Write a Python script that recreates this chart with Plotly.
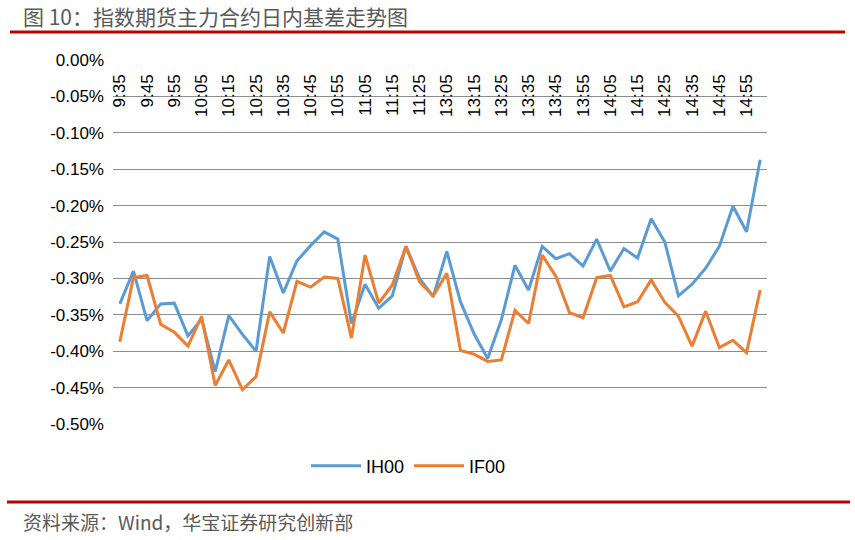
import plotly.graph_objects as go

times = ["9:35", "9:40", "9:45", "9:50", "9:55", "10:00", "10:05", "10:10", "10:15", "10:20",
         "10:25", "10:30", "10:35", "10:40", "10:45", "10:50", "10:55", "11:00", "11:05", "11:10",
         "11:15", "11:20", "11:25", "11:30",
         "13:05", "13:10", "13:15", "13:20", "13:25", "13:30", "13:35", "13:40", "13:45", "13:50",
         "13:55", "14:00", "14:05", "14:10", "14:15", "14:20", "14:25", "14:30", "14:35", "14:40",
         "14:45", "14:50", "14:55", "15:00"]

ih00 = [-0.335, -0.290, -0.358, -0.335, -0.334, -0.379, -0.356, -0.428, -0.351, -0.377,
        -0.400, -0.270, -0.320, -0.276, -0.255, -0.236, -0.246, -0.362, -0.308, -0.341,
        -0.324, -0.256, -0.300, -0.325,
        -0.263, -0.332, -0.376, -0.410, -0.357, -0.282, -0.316, -0.256, -0.273, -0.266,
        -0.283, -0.246, -0.290, -0.259, -0.272, -0.218, -0.250, -0.324, -0.308, -0.286,
        -0.256, -0.201, -0.236, -0.137]

if00 = [-0.387, -0.299, -0.296, -0.363, -0.374, -0.393, -0.352, -0.447, -0.412, -0.453,
        -0.435, -0.346, -0.375, -0.304, -0.312, -0.298, -0.300, -0.382, -0.268, -0.334,
        -0.309, -0.256, -0.305, -0.324,
        -0.293, -0.399, -0.404, -0.414, -0.412, -0.344, -0.362, -0.268, -0.297, -0.347,
        -0.354, -0.299, -0.296, -0.339, -0.332, -0.302, -0.333, -0.352, -0.393, -0.345,
        -0.395, -0.385, -0.402, -0.316]

y_ticks = [0.0, -0.05, -0.10, -0.15, -0.20, -0.25, -0.30, -0.35, -0.40, -0.45, -0.50]
y_tick_text = ["0.00%", "-0.05%", "-0.10%", "-0.15%", "-0.20%", "-0.25%", "-0.30%",
               "-0.35%", "-0.40%", "-0.45%", "-0.50%"]
x_tick_labels = times[::2]

title_text = "图 10：指数期货主力合约日内基差走势图"
source_text = "资料来源：Wind，华宝证券研究创新部"

W, H = 855, 540
L, R, T, B = 113, 88, 60, 116
PW, PH = W - L - R, H - T - B


def px(x):
    return (x - L) / PW


def py(y):
    return (H - B - y) / PH


fig = go.Figure()
fig.add_trace(go.Scatter(x=times, y=ih00, name="IH00", mode="lines",
                         line=dict(color="#5B9BD5", width=3)))
fig.add_trace(go.Scatter(x=times, y=if00, name="IF00", mode="lines",
                         line=dict(color="#ED7D31", width=3)))

fig.update_layout(
    width=W, height=H,
    margin=dict(l=L, r=R, t=T, b=B),
    paper_bgcolor="white", plot_bgcolor="white",
    font=dict(family="Liberation Sans, Arial, sans-serif", color="#000000"),
    showlegend=True,
    legend=dict(orientation="h", x=px(306), xanchor="left", y=py(466), yanchor="middle",
                font=dict(size=18, family="Liberation Sans, Arial, sans-serif"),
                itemwidth=50, bgcolor="rgba(0,0,0,0)"),
    xaxis=dict(type="category", range=[-0.5, len(times) - 0.5],
               anchor="free", position=1, side="bottom",
               tickmode="array", tickvals=x_tick_labels, ticktext=x_tick_labels,
               tickangle=-90, ticks="", ticklabelstandoff=10,
               showgrid=False, showline=False, zeroline=False,
               tickfont=dict(size=17, family="Liberation Sans, Arial, sans-serif")),
    yaxis=dict(range=[-0.5, 0], tickmode="array", tickvals=y_ticks, ticktext=y_tick_text,
               showgrid=True, gridcolor="#8c8c8c", gridwidth=1, zeroline=False,
               showline=False, ticks="", ticklabelstandoff=8,
               tickfont=dict(size=17, family="Liberation Sans, Arial, sans-serif")),
    annotations=[
        dict(text=title_text, xref="paper", yref="paper", x=px(21), y=py(16),
             xanchor="left", yanchor="middle", showarrow=False,
             font=dict(size=21, color="#595959", family="Noto Sans CJK SC")),
        dict(text=source_text, xref="paper", yref="paper", x=px(21), y=py(521),
             xanchor="left", yanchor="middle", showarrow=False,
             font=dict(size=19, color="#595959", family="Noto Sans CJK SC")),
    ],
    shapes=[
        dict(type="line", xref="paper", yref="paper", x0=px(10), x1=px(845), y0=py(32), y1=py(32),
             line=dict(color="#C00000", width=3)),
        dict(type="line", xref="paper", yref="paper", x0=px(7), x1=px(850), y0=py(502), y1=py(502),
             line=dict(color="#C00000", width=3)),
    ],
)

fig.write_html("out.html")
